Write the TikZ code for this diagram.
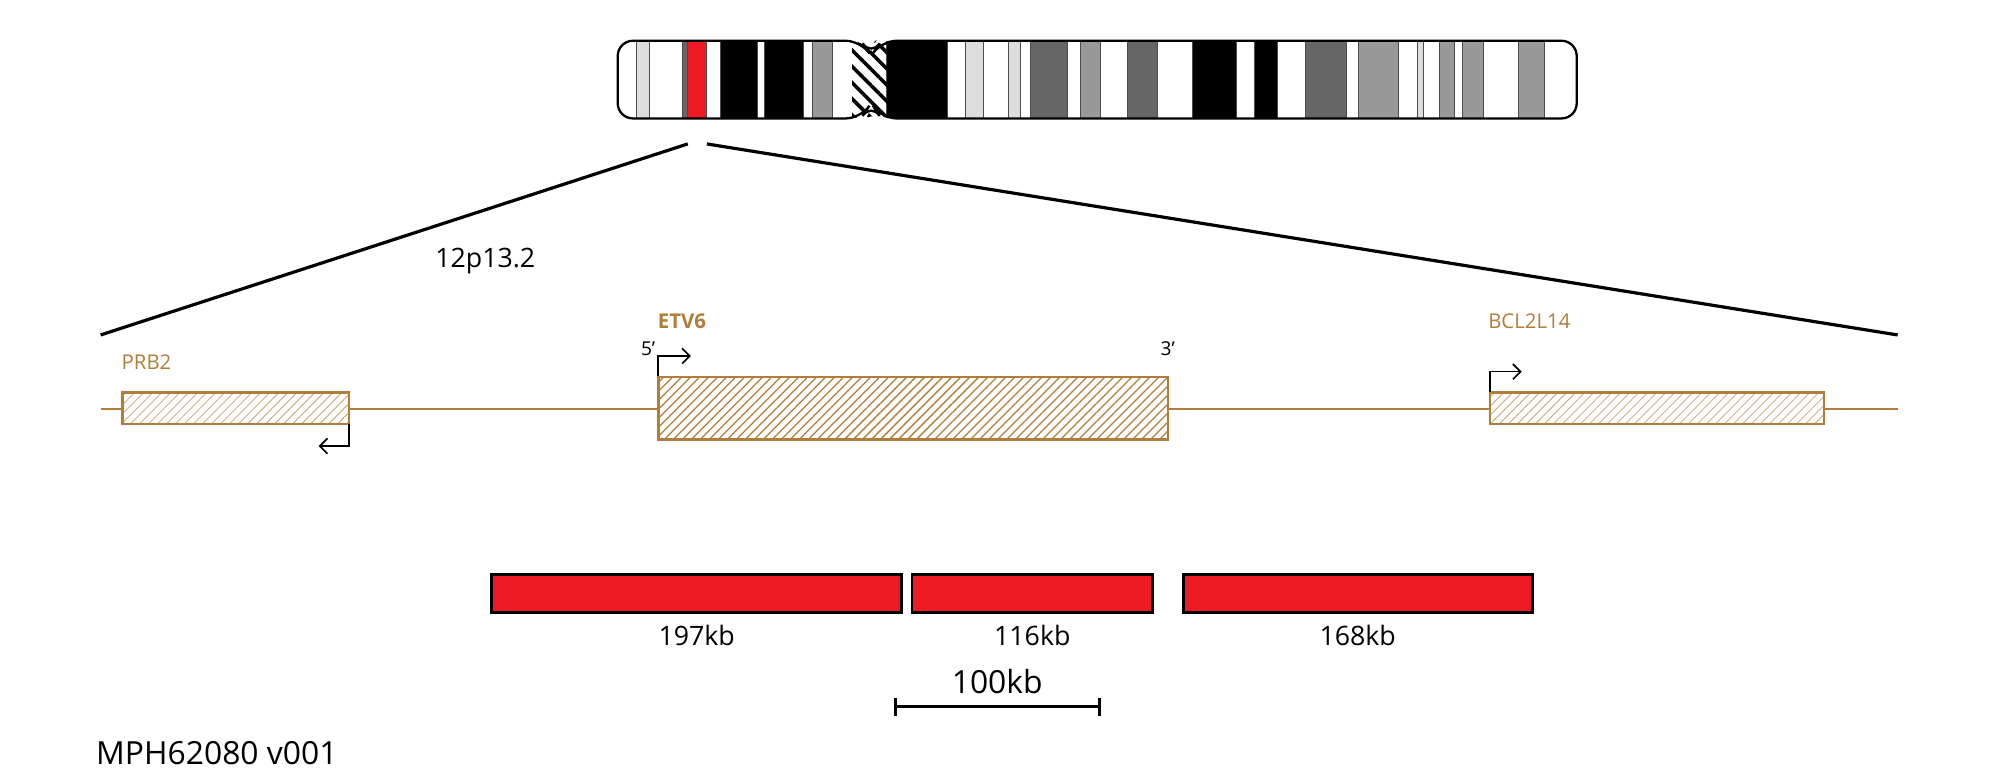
\documentclass[tikz,border=0pt]{standalone}
\usepackage{fontspec}
\setmainfont{Open Sans}
\usetikzlibrary{patterns.meta,arrows.meta}
\definecolor{gene}{HTML}{B07D3A}
\definecolor{dg}{HTML}{666666}
\definecolor{mg}{HTML}{999999}
\definecolor{lg}{HTML}{DDDDDD}
\definecolor{rd}{HTML}{ED1C24}
\begin{document}
\begin{tikzpicture}[x=1pt,y=-1pt,
 band/.style={draw=black!70,line width=0.8pt},
 genebox/.style={draw=gene,line width=2pt,pattern={Lines[angle=45,distance=5pt,line width=1pt]},pattern color=gene},
 genelite/.style={draw=gene,line width=2pt,pattern={Lines[angle=45,distance=5pt,line width=0.6pt]},pattern color=gene!70},
 redbar/.style={draw=black,line width=2.2pt,fill=rd},
 lbl/.style={font=\fontsize{21}{25}\selectfont},
 glbl/.style={font=\fontsize{16}{19}\selectfont,text=gene}]
\useasboundingbox (0,0) rectangle (1568,605);
% chromosome
\begin{scope}
\clip[rounded corners=12pt] (485,32) -- (680,32) -- (684,40) -- (688,32) -- (1238,32) -- (1238,93) -- (688,93) -- (684,85) -- (680,93) -- (485,93) -- cycle;
\foreach \a/\b/\c in {500/510/lg,536/540/dg,540/555/rd,566/595/black,600/631/black,638/654/mg,
 696/744/black,758/772/lg,792/801/lg,809/838/dg,848/864/mg,885/909/dg,936/971/black,985/1003/black,
 1025/1057/dg,1067/1098/mg,1113/1118/lg,1130/1142/mg,1148/1165/mg,1192/1213/mg}
 \draw[band,fill=\c] (\a,32) rectangle (\b,93);
\fill[pattern={Lines[angle=-45,distance=9pt,line width=2.8pt]},pattern color=black] (669,32) rectangle (697,93);
\end{scope}
\draw[line width=1.8pt,rounded corners=12pt] (485,32) -- (676,32) -- (684,44) -- (692,32) -- (1238,32) -- (1238,93) -- (692,93) -- (684,81) -- (676,93) -- (485,93) -- cycle;
% zoom lines
\coordinate (z1) at (540,113); \coordinate (z2) at (555,113);
\coordinate (l1) at (79,263); \coordinate (r1) at (1490,263);
\draw[line width=2.5pt] (z1) -- (l1);
\draw[line width=2.5pt] (z2) -- (r1);
\node[lbl] (loc) at (381,205) {12p13.2};
% genes
\coordinate (gl) at (79,321); \coordinate (gr) at (1490,321);
\draw[gene,line width=1.5pt] (gl) -- (gr);
\node[inner sep=0pt,minimum width=178pt,minimum height=25pt] (prb) at (185,320.5) {};
\node[inner sep=0pt,minimum width=262pt,minimum height=25pt] (bcl) at (1301,320.5) {};
\fill[white] (prb.south west) rectangle (prb.north east);
\fill[white] (bcl.south west) rectangle (bcl.north east);
\node[genelite,minimum width=178pt,minimum height=25pt,inner sep=0pt] at (prb) {};
\node[genelite,minimum width=262pt,minimum height=25pt,inner sep=0pt] at (bcl) {};
\node[genebox,fill=white,minimum width=400pt,minimum height=49pt,inner sep=0pt] (etv) at (717,320.5) {};
\node[genebox,minimum width=400pt,minimum height=49pt,inner sep=0pt] at (etv) {};
\node[glbl,anchor=west] (prbl) at (92,284) {PRB2};
\node[glbl,anchor=west,font=\fontsize{16}{19}\selectfont\bfseries] (etvl) at (513,252) {ETV6};
\node[glbl,anchor=west] (bcll) at (1165,252) {BCL2L14};
\node[font=\fontsize{15}{18}\selectfont,anchor=east] (p5) at (518,274) {5'};
\node[font=\fontsize{15}{18}\selectfont,anchor=east] (p3) at (926,274) {3'};
\draw[line width=1.3pt,-{Straight Barb[length=6pt]}] (prb.south east) -- ++(0,17) -- ++(-24,0);
\draw[line width=1.3pt,-{Straight Barb[length=6pt]}] (etv.north west) -- ++(0,-16) -- ++(26,0);
\draw[line width=1.3pt,-{Straight Barb[length=6pt]}] (bcl.north west) -- ++(0,-16) -- ++(25,0);
% red bars
\node[redbar,minimum width=322pt,minimum height=30pt,inner sep=0pt] (b1) at (547,466) {};
\node[redbar,minimum width=189pt,minimum height=30pt,inner sep=0pt] (b2) at (810.5,466) {};
\node[redbar,minimum width=274pt,minimum height=30pt,inner sep=0pt] (b3) at (1066,466) {};
\node[lbl] (t1) at (547,499) {197kb};
\node[lbl] (t2) at (810.5,499) {116kb};
\node[lbl] (t3) at (1066,499) {168kb};
% scale
\coordinate (s1) at (703,555); \coordinate (s2) at (863,555);
\draw[line width=2.5pt] (s1) -- (s2);
\draw[line width=2.5pt] (703,548) -- (703,562);
\draw[line width=2.5pt] (863,548) -- (863,562);
\node[font=\fontsize{25}{30}\selectfont] (sl) at (783,535) {100kb};
\node[font=\fontsize{25}{30}\selectfont,anchor=west] (id) at (72,591) {MPH62080 v001};
\end{tikzpicture}
\end{document}
